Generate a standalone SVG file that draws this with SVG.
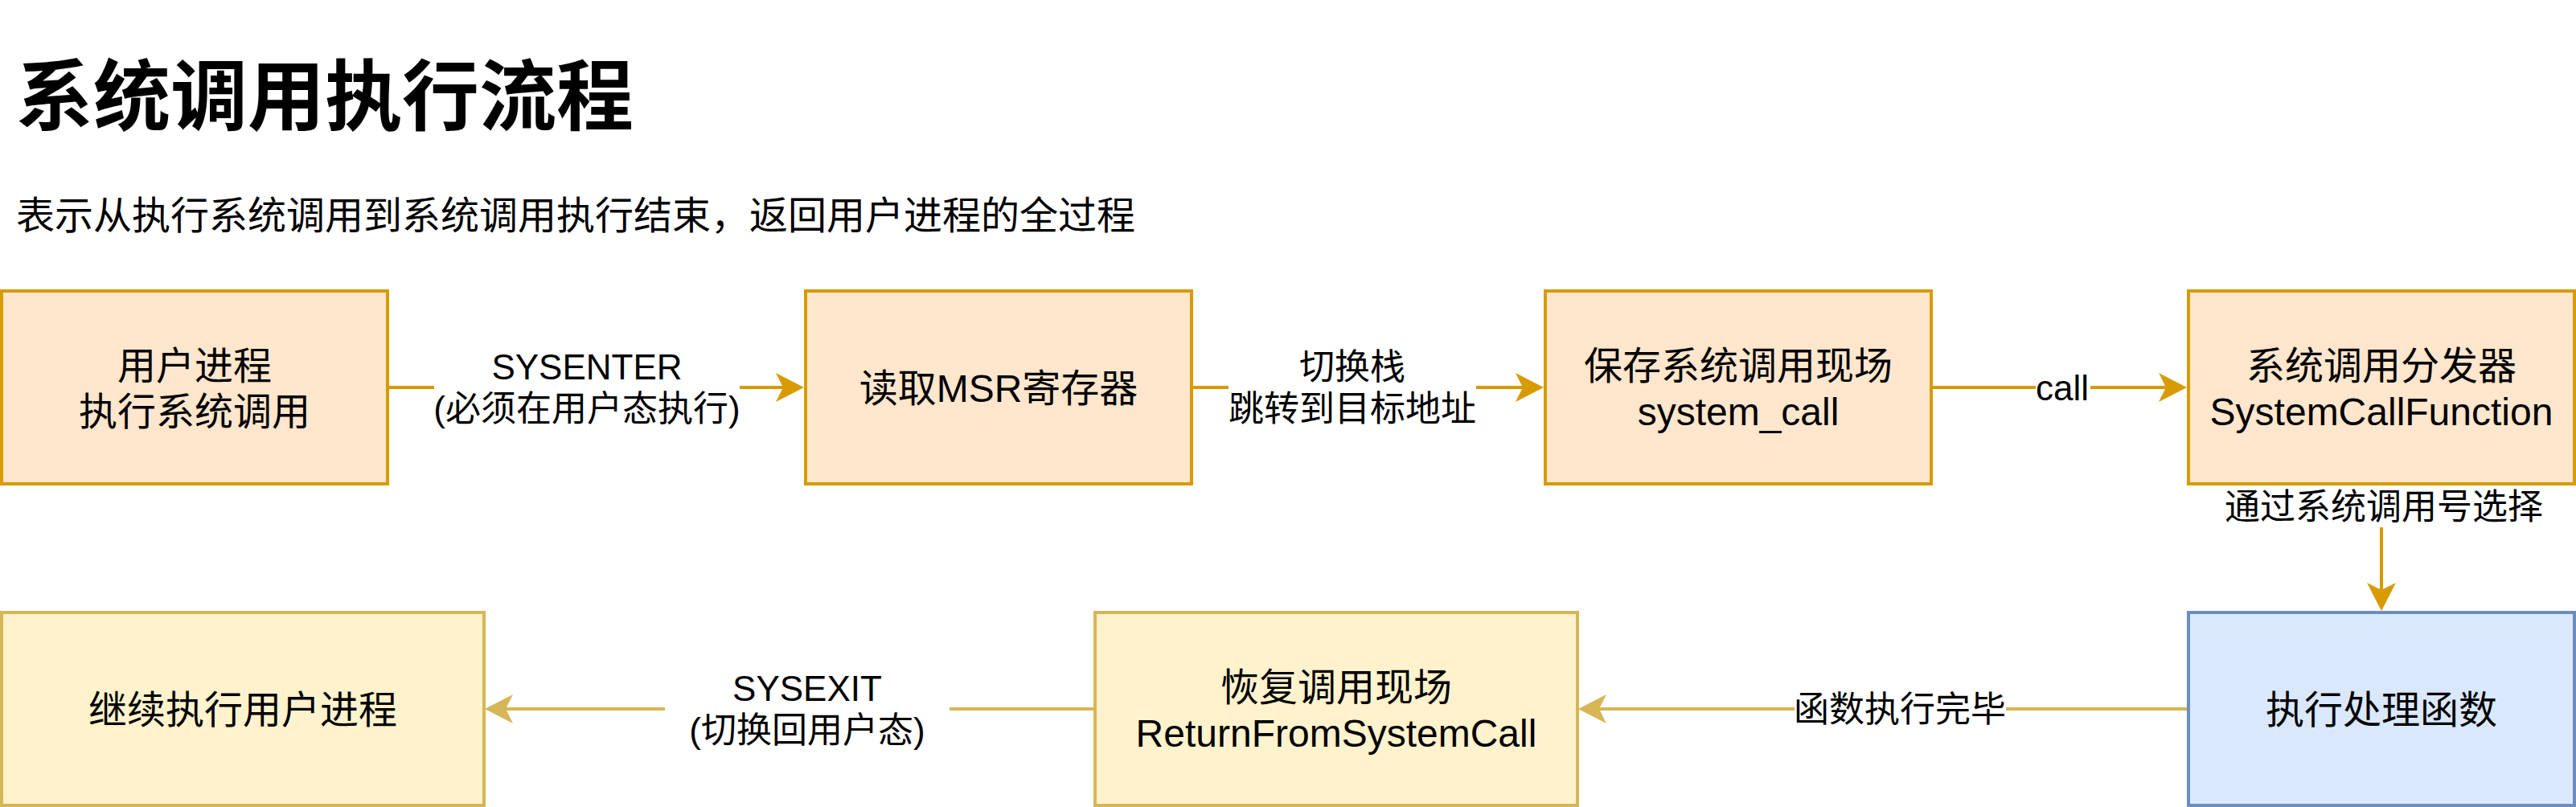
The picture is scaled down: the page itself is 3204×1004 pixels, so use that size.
<svg xmlns="http://www.w3.org/2000/svg" width="3204" height="1004" viewBox="0 0 3204 1004">
<style>
text{font-family:"Liberation Sans","Noto Sans CJK SC",sans-serif;fill:#000;text-anchor:middle}
.title{font-size:96px;font-weight:700;text-anchor:start}
.sub{font-size:48px;text-anchor:start}
.nt{font-size:48px}
.lt{font-size:44px}
.orange{fill:#ffe6cc;stroke:#d79b00;stroke-width:4}
.yellow{fill:#fff2cc;stroke:#d6b656;stroke-width:4}
.blue{fill:#dae8fc;stroke:#6c8ebf;stroke-width:4}
.e1{fill:none;stroke:#d79b00;stroke-width:4;marker-end:url(#arrO)}
.e2{fill:none;stroke:#d6b656;stroke-width:4;marker-end:url(#arrY)}
.lbg{fill:#fff;stroke:none}
</style>
<defs>
<marker id="arrO" viewBox="0 0 35 36" refX="9" refY="18" markerWidth="35" markerHeight="36" markerUnits="userSpaceOnUse" orient="auto">
<path d="M0,0 L35,18 L0,36 L9,18 Z" fill="#d79b00"/>
</marker>
<marker id="arrY" viewBox="0 0 35 36" refX="9" refY="18" markerWidth="35" markerHeight="36" markerUnits="userSpaceOnUse" orient="auto">
<path d="M0,0 L35,18 L0,36 L9,18 Z" fill="#d6b656"/>
</marker>
</defs>
<rect width="3204" height="1004" fill="#fff"/>
<g id="title">
<text class="title" x="20" y="154">系统调用执行流程</text>
<text class="sub" x="20" y="285">表示从执行系统调用到系统调用执行结束，返回用户进程的全过程</text>
</g>
<g id="connectors">
<path class="e1" d="M482,482 L974,482"/>
<rect class="lbg" x="540" y="430" width="380" height="104"/>
<text class="lt" x="730" y="472">SYSENTER</text>
<text class="lt" x="730" y="524">(必须在用户态执行)</text>
<path class="e1" d="M1482,482 L1894,482"/>
<rect class="lbg" x="1528" y="430" width="308" height="104"/>
<text class="lt" x="1682" y="472">切换栈</text>
<text class="lt" x="1682" y="524">跳转到目标地址</text>
<path class="e1" d="M2402,482 L2694,482"/>
<rect class="lbg" x="2532" y="456" width="68" height="52"/>
<text class="lt" x="2565" y="498">call</text>
<path class="e1" d="M2962,602 L2962,734"/>
<rect class="lbg" x="2764" y="604" width="402" height="52"/>
<text class="lt" x="2965" y="646">通过系统调用号选择</text>
<path class="e2" d="M2722,882 L1989,882"/>
<rect class="lbg" x="2232" y="856" width="263" height="52"/>
<text class="lt" x="2363" y="898">函数执行完毕</text>
<path class="e2" d="M1362,882 L629,882"/>
<rect class="lbg" x="827" y="830" width="354" height="104"/>
<text class="lt" x="1004" y="872">SYSEXIT</text>
<text class="lt" x="1004" y="924">(切换回用户态)</text>
</g>
<g id="n1">
<rect class="orange" x="2" y="362" width="480" height="240"/>
<text class="nt" x="242" y="472">用户进程</text>
<text class="nt" x="242" y="529">执行系统调用</text>
</g>
<g id="n2">
<rect class="orange" x="1002" y="362" width="480" height="240"/>
<text class="nt" x="1242" y="500">读取MSR寄存器</text>
</g>
<g id="n3">
<rect class="orange" x="1922" y="362" width="480" height="240"/>
<text class="nt" x="2162" y="472">保存系统调用现场</text>
<text class="nt" x="2162" y="529">system_call</text>
</g>
<g id="n4">
<rect class="orange" x="2722" y="362" width="480" height="240"/>
<text class="nt" x="2962" y="472">系统调用分发器</text>
<text class="nt" x="2962" y="529">SystemCallFunction</text>
</g>
<g id="n7">
<rect class="blue" x="2722" y="762" width="480" height="240"/>
<text class="nt" x="2962" y="900">执行处理函数</text>
</g>
<g id="n6">
<rect class="yellow" x="1362" y="762" width="600" height="240"/>
<text class="nt" x="1662" y="872">恢复调用现场</text>
<text class="nt" x="1662" y="929">ReturnFromSystemCall</text>
</g>
<g id="n5">
<rect class="yellow" x="2" y="762" width="600" height="240"/>
<text class="nt" x="302" y="900">继续执行用户进程</text>
</g>
</svg>
